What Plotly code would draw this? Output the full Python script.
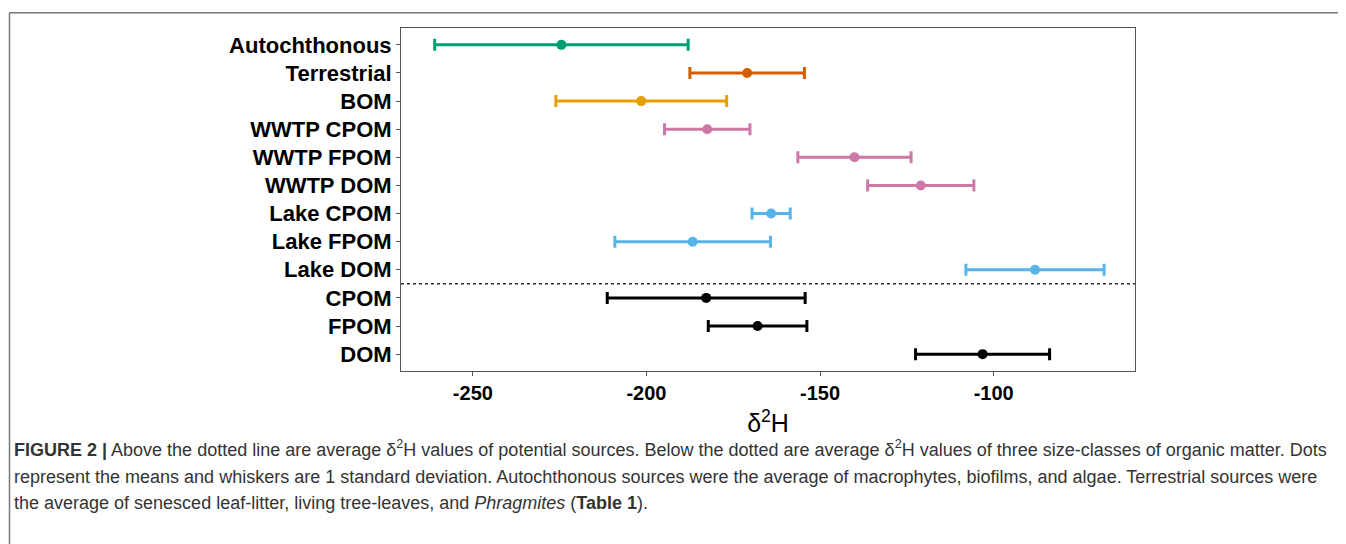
import plotly.graph_objects as go

# ---- data ----
categories = ["Autochthonous", "Terrestrial", "BOM", "WWTP CPOM", "WWTP FPOM",
              "WWTP DOM", "Lake CPOM", "Lake FPOM", "Lake DOM", "CPOM", "FPOM", "DOM"]
means = [-224.5, -171.0, -201.5, -182.5, -140.1, -121.0,
         -164.1, -186.7, -88.1, -182.8, -168.0, -103.2]
sds = [36.5, 16.5, 24.6, 12.3, 16.3, 15.3, 5.5, 22.4, 19.9, 28.5, 14.2, 19.3]
point_colors = ["#009E73", "#D55E00", "#E69F00", "#CC79A7", "#CC79A7", "#CC79A7",
                "#56B4E9", "#56B4E9", "#56B4E9", "#000000", "#000000", "#000000"]
x_ticks = [-250, -200, -150, -100]
x_tick_labels = ["-250", "-200", "-150", "-100"]
divider_after = "Lake DOM"

caption_lines = [
    "<b>FIGURE 2 |</b> Above the dotted line are average δ<sup>2</sup>H values of potential sources. "
    "Below the dotted are average δ<sup>2</sup>H values of three size-classes of organic matter. Dots",
    "represent the means and whiskers are 1 standard deviation. Autochthonous sources were the average "
    "of macrophytes, biofilms, and algae. Terrestrial sources were",
    "the average of senesced leaf-litter, living tree-leaves, and <i>Phragmites</i> (<b>Table 1</b>).",
]

# ---- layout geometry (page pixels; the page body adds an 8px margin) ----
OFF = 8
W, H = 1346 - OFF, 544 - OFF
L, T = 401 - OFF, 28 - OFF
R = W - (1135 - OFF)
B = H - (371 - OFF)
PW, PH = W - L - R, H - T - B


def px(x):
    return (x - OFF - L) / PW


def py(y):
    return (H - B - (y - OFF)) / PH


order = list(reversed(categories))  # bottom -> top

fig = go.Figure()
for cat, m, s, c in zip(categories, means, sds, point_colors):
    fig.add_trace(go.Scatter(
        x=[m], y=[cat], mode="markers",
        marker=dict(color=c, size=10, line=dict(width=0)),
        error_x=dict(type="data", array=[s], symmetric=True,
                     color=c, thickness=3, width=6),
        showlegend=False, hoverinfo="x+y",
    ))

div_y = order.index(divider_after) - 0.5

shapes = [
    dict(type="line", xref="x domain", yref="y", x0=0, x1=1, y0=div_y, y1=div_y,
         line=dict(color="#333333", width=1.5, dash="dot")),
    # figure frame (top and left edges)
    dict(type="line", xref="paper", yref="paper", x0=px(9.5), x1=px(1350),
         y0=py(12.7), y1=py(12.7), line=dict(color="#777777", width=1.5)),
    dict(type="line", xref="paper", yref="paper", x0=px(9.5), x1=px(9.5),
         y0=py(12.7), y1=py(550), line=dict(color="#777777", width=1.5)),
]

annotations = []
for txt, yc in zip(caption_lines, [449, 477, 503]):
    annotations.append(dict(
        text=txt, xref="paper", yref="paper", x=px(12), y=py(yc),
        xanchor="left", yanchor="middle", showarrow=False, align="left",
        font=dict(family="Liberation Sans, Arial", size=18, color="#333333"),
    ))

fig.update_layout(
    width=W, height=H,
    margin=dict(l=L, r=R, t=T, b=B, autoexpand=False),
    paper_bgcolor="white", plot_bgcolor="white",
    shapes=shapes, annotations=annotations,
    font=dict(family="Liberation Sans, Arial", color="black"),
)
fig.update_xaxes(
    range=[-270.7, -59.3], tickvals=x_ticks, ticktext=x_tick_labels,
    ticks="outside", ticklen=4,
    tickcolor="#555555", tickwidth=1, showgrid=False, zeroline=False,
    showline=True, linecolor="#555555", linewidth=1, mirror=True,
    tickfont=dict(size=20, weight="bold", color="black"),
    title=dict(text="δ<sup>2</sup>H", font=dict(size=25, color="black"), standoff=11),
)
fig.update_yaxes(
    type="category", categoryorder="array", categoryarray=order,
    range=[-0.6, len(order) - 0.4], ticks="outside", ticklen=4,
    tickcolor="#555555", tickwidth=1, showgrid=False, zeroline=False,
    showline=True, linecolor="#555555", linewidth=1, mirror=True,
    tickfont=dict(size=22, weight="bold", color="black"),
)

fig.write_html("out.html", config={"displayModeBar": False})
